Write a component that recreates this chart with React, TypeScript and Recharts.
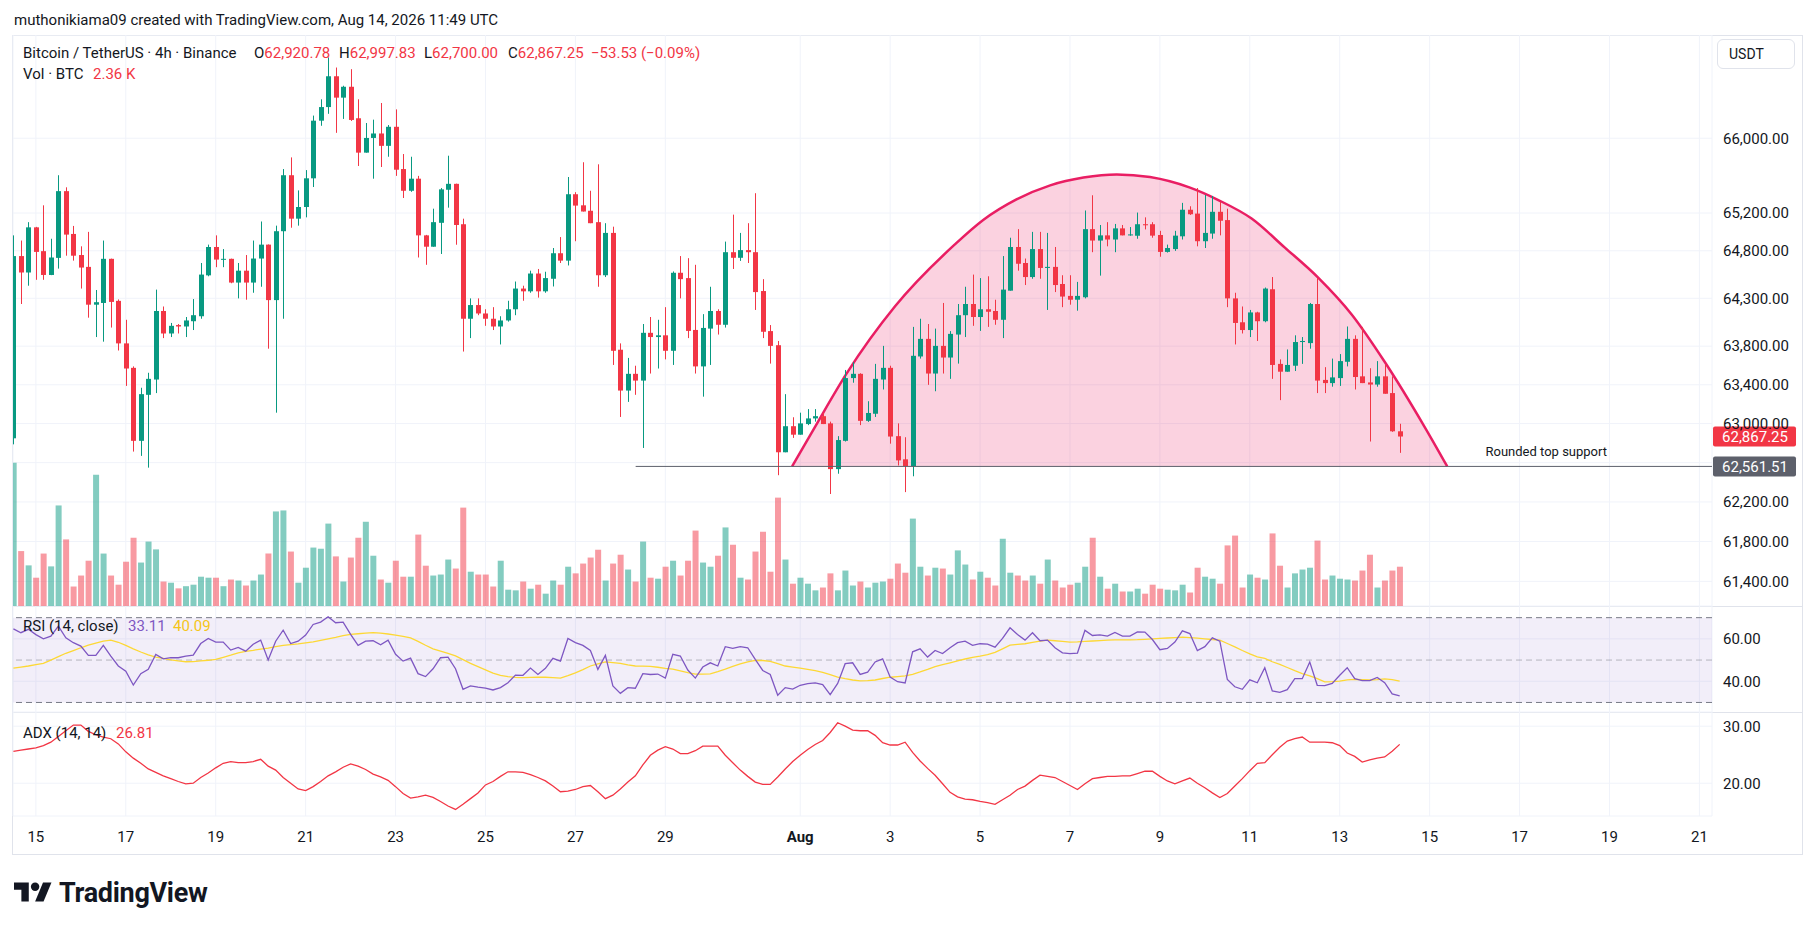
import React from 'react';
import {
  ComposedChart,
  LineChart,
  Line,
  Bar,
  Area,
  Cell,
  XAxis,
  YAxis,
  CartesianGrid,
  ReferenceLine,
  ReferenceArea,
} from 'recharts';

// time is counted in days from Jul 0 (Aug 1 = 32); 4h candles from Jul 14 12:00 UTC
const START_DAY = 14.5;
const STEP = 1 / 6;

const OPEN = [
  62849, 64744, 64571, 65048, 64796, 64545, 64725, 65433, 64978, 64755,
  64630, 64233, 64251, 64715, 64273, 63829, 63575, 62823, 63296, 63454,
  64167, 63932, 64020, 64005, 64060, 64112, 64541, 64840, 64707, 64715,
  64465, 64590, 64465, 64718, 64865, 64281, 65007, 65603, 65140, 65264,
  65570, 66189, 66336, 66670, 66438, 66556, 66215, 65845, 66003, 66051,
  65918, 66123, 65669, 65437, 65566, 64963, 64843, 65096, 65448, 65511,
  65081, 64086, 64229, 64141, 64086, 64005, 64068, 64185, 64402, 64373,
  64560, 64373, 64505, 64774, 64696, 65400, 65282, 65224, 65103, 64542,
  64989, 63763, 63340, 63513, 63443, 63939, 63895, 63913, 63752, 64568,
  64512, 63969, 63590, 63983, 64167, 64023, 64785, 64726, 64807, 64785,
  64376, 63957, 63810, 62706, 62973, 62886, 62995, 63053, 63076, 63002,
  62534, 62823, 63469, 63513, 63028, 63101, 63454, 63575, 62871, 62634,
  62564, 63693, 63876, 63516, 63803, 63682, 63921, 64123, 64240, 64104,
  64185, 64167, 64075, 64380, 64840, 64671, 64523, 64818, 64619, 64630,
  64450, 64325, 64285, 64311, 65029, 64908, 64963, 64919, 65037, 64963,
  64959, 65081, 65081, 64967, 64788, 64818, 64953, 65235, 65194, 64901,
  64982, 65213, 65125, 64299, 64049, 63968, 64152, 64060, 64395, 63616,
  63535, 63597, 63843, 63832, 64240, 63450, 63417, 63469, 63638, 63876,
  63487, 63424, 63402, 63487, 63314, 62920.78,
];

const HIGH = [
  64963, 64908, 65103, 65053, 65282, 64927, 65603, 65474, 65063, 64847,
  65000, 64387, 64908, 64717, 64288, 64075, 63590, 63369, 63524, 64391,
  64214, 64042, 64031, 64104, 64292, 64671, 64865, 64963, 64818, 64717,
  64671, 64755, 64908, 65110, 64867, 65066, 65669, 65794, 65441, 65658,
  66244, 66420, 66876, 66765, 66567, 66747, 66420, 66164, 66200, 66380,
  66142, 66311, 65830, 65801, 65596, 64968, 65246, 65466, 65812, 65513,
  65140, 64299, 64299, 64185, 64207, 64112, 64274, 64476, 64432, 64590,
  64608, 64579, 64829, 64945, 65584, 65422, 65742, 65437, 65720, 65092,
  65055, 63829, 63678, 63597, 64031, 64104, 64075, 64207, 64582, 64744,
  64722, 64652, 64134, 64421, 64185, 64897, 65183, 64989, 65092, 65411,
  64501, 64020, 63854, 63303, 63065, 63112, 63149, 63149, 63112, 63020,
  62871, 63553, 63634, 63519, 63230, 63616, 63803, 63597, 63002, 62860,
  64001, 64086, 64031, 63983, 64251, 63957, 64240, 64421, 64549, 64512,
  64531, 64285, 64744, 64938, 65029, 64718, 65000, 65000, 64989, 64840,
  64542, 64542, 64472, 65227, 65389, 65073, 65103, 65084, 65073, 65051,
  65205, 65154, 65103, 65011, 64865, 65011, 65308, 65272, 65466, 65393,
  65382, 65319, 65246, 64358, 64214, 64178, 64159, 64413, 64523, 63663,
  63766, 63913, 63895, 64251, 64512, 63582, 63671, 63718, 64005, 63913,
  64001, 63571, 63645, 63608, 63487, 62997.83,
];

const LOW = [
  62787, 64240, 64432, 64494, 64494, 64543, 64612, 64748, 64696, 64402,
  64097, 63895, 63847, 63994, 63755, 63388, 62713, 62669, 62549, 63314,
  63884, 63895, 63932, 63895, 63968, 64086, 64531, 64627, 64627, 64458,
  64299, 64285, 64358, 64421, 63774, 63112, 64086, 65044, 65066, 65154,
  65477, 66134, 66263, 66058, 66208, 66186, 65702, 65845, 65566, 65691,
  65801, 65596, 65360, 65426, 64729, 64652, 64843, 64766, 65257, 64864,
  63744, 63884, 64123, 64012, 63968, 63818, 64056, 64123, 64274, 64358,
  64307, 64358, 64424, 64671, 64645, 64901, 65216, 65092, 64421, 64523,
  63605, 63068, 63223, 63296, 62750, 63516, 63568, 63663, 63605, 64299,
  63884, 63516, 63277, 63605, 63921, 63994, 64608, 64693, 64671, 64178,
  63884, 63619, 62472, 62706, 62853, 62886, 62984, 63020, 62995, 62281,
  62487, 62816, 63421, 62984, 63017, 63068, 63351, 62794, 62571, 62300,
  62461, 63671, 63399, 63333, 63516, 63461, 63619, 63895, 64012, 63959,
  64001, 64023, 63884, 64380, 64590, 64439, 64505, 64505, 64178, 64365,
  64207, 64233, 64170, 64299, 64785, 64538, 64847, 64785, 64963, 64959,
  64927, 65026, 64938, 64737, 64781, 64799, 64919, 65180, 64847, 64829,
  64927, 64963, 64207, 63818, 63932, 63895, 63854, 64049, 63461, 63241,
  63535, 63542, 63616, 63774, 63314, 63314, 63380, 63388, 63590, 63351,
  63417, 62816, 63380, 63307, 62915, 62700,
];

const CLOSE = [
  64744, 64571, 65048, 64788, 64545, 64729, 65433, 64971, 64748, 64623,
  64233, 64259, 64715, 64262, 63829, 63568, 62823, 63303, 63461, 64167,
  63932, 64012, 64005, 64068, 64123, 64549, 64840, 64707, 64715, 64465,
  64590, 64465, 64718, 64865, 64281, 65007, 65603, 65140, 65264, 65570,
  66189, 66336, 66670, 66438, 66556, 66197, 65845, 66003, 66051, 65918,
  66123, 65662, 65437, 65566, 64963, 64843, 65103, 65452, 65511, 65073,
  64086, 64229, 64141, 64086, 64005, 64068, 64185, 64402, 64373, 64560,
  64373, 64512, 64774, 64696, 65400, 65279, 65216, 65092, 64542, 64989,
  63752, 63340, 63513, 63443, 63939, 63895, 63913, 63752, 64568, 64501,
  63959, 63590, 63990, 64167, 64023, 64785, 64726, 64807, 64785, 64365,
  63950, 63803, 62706, 62973, 62886, 63002, 63053, 63076, 62995, 62534,
  62831, 63469, 63513, 63028, 63109, 63461, 63575, 62867, 62623, 62564,
  63700, 63876, 63516, 63803, 63682, 63928, 64123, 64240, 64104, 64185,
  64159, 64075, 64391, 64840, 64663, 64523, 64818, 64619, 64630, 64439,
  64318, 64285, 64325, 65029, 64908, 64963, 64919, 65037, 64963, 64973,
  65081, 65070, 64960, 64788, 64829, 64960, 65235, 65187, 64901, 64989,
  65213, 65118, 64299, 64042, 63968, 64152, 64060, 64402, 63605, 63535,
  63605, 63843, 63854, 64240, 63443, 63417, 63476, 63645, 63876, 63480,
  63417, 63402, 63487, 63307, 62920.78, 62867.25,
];

// volume in BTC
const VOLUME = [
  8610, 3300, 2440, 1700, 3150, 2380, 6040, 4000, 1170, 1830,
  2720, 7890, 3150, 1830, 1280, 2660, 4100, 2610, 3870, 3400,
  1470, 1400, 1060, 1190, 1280, 1760, 1700, 1700, 1190, 1590,
  1530, 1230, 1530, 1890, 3150, 5680, 5740, 3270, 1400, 2300,
  3510, 3440, 4950, 2980, 1470, 2910, 4100, 5060, 3020, 1590,
  1400, 2720, 1760, 1760, 4290, 2420, 1830, 1890, 2790, 2250,
  5910, 2060, 1890, 1890, 1170, 2720, 980, 940, 1470, 1040,
  1280, 740, 1530, 1280, 2360, 1960, 2550, 2910, 3380, 1530,
  2550, 3080, 2190, 1470, 3870, 1700, 1640, 2360, 2720, 1830,
  2720, 4530, 2610, 2360, 3020, 4720, 3680, 1700, 1590, 3270,
  4460, 2060, 6510, 2790, 1340, 1700, 1340, 940, 1110, 1960,
  940, 2130, 1230, 1470, 1110, 1400, 1470, 1640, 2550, 2000,
  5250, 2360, 1830, 2300, 2250, 1890, 3340, 2490, 1590, 2060,
  1700, 1230, 4040, 2000, 1830, 1530, 1830, 1340, 2790, 1530,
  1110, 1280, 1400, 2360, 4100, 1760, 1040, 1340, 870, 870,
  1040, 740, 1280, 1040, 980, 940, 1280, 810, 2300, 1760,
  1640, 1340, 3640, 4230, 1110, 1890, 1700, 1590, 4360, 2420,
  1110, 1960, 2190, 2300, 3930, 1590, 1830, 1640, 1590, 1530,
  2130, 3080, 1110, 1530, 2130, 2360,
];

const RSI = [
  64.7, 62.9, 64.5, 62.0, 60.0, 61.3, 66.0, 60.5, 58.2, 56.6,
  52.2, 52.2, 56.9, 51.9, 47.2, 44.7, 38.2, 43.6, 45.6, 52.7,
  50.6, 51.1, 51.1, 51.9, 52.3, 57.8, 60.2, 58.5, 58.5, 54.7,
  56.0, 54.2, 57.5, 59.4, 50.0, 58.9, 64.1, 57.8, 58.9, 61.8,
  66.8, 67.9, 70.4, 67.6, 67.9, 62.1, 56.9, 58.9, 59.1, 57.2,
  59.4, 52.7, 49.5, 50.9, 43.6, 42.2, 45.9, 51.1, 51.4, 45.9,
  36.2, 37.8, 37.2, 36.8, 35.9, 37.0, 39.3, 42.9, 42.8, 46.2,
  43.2, 46.1, 50.8, 49.5, 60.2, 58.2, 56.9, 54.5, 45.6, 52.2,
  37.8, 34.3, 37.0, 36.7, 43.6, 43.2, 43.4, 41.5, 52.7, 51.9,
  45.3, 41.5, 46.7, 48.7, 47.2, 56.3, 55.5, 56.3, 55.8, 50.3,
  45.1, 43.2, 33.4, 37.0, 36.3, 38.1, 38.9, 39.2, 38.4, 33.7,
  39.0, 48.3, 48.7, 43.2, 44.3, 49.1, 50.6, 42.0, 39.8, 39.2,
  53.9, 55.3, 51.4, 54.5, 53.1, 55.8, 58.2, 58.9, 56.9, 57.7,
  57.5, 56.1, 60.2, 65.2, 62.1, 59.4, 62.9, 59.1, 59.4, 55.8,
  53.4, 53.0, 53.3, 64.0, 61.6, 61.9, 61.3, 63.0, 61.3, 61.3,
  63.3, 63.2, 59.7, 54.9, 55.5, 58.5, 63.8, 62.5, 54.5, 56.3,
  60.5, 58.9, 40.9, 37.4, 36.2, 40.7, 39.3, 46.4, 35.4, 34.8,
  36.0, 41.2, 41.2, 49.1, 38.1, 37.9, 39.0, 42.8, 46.4, 41.2,
  40.3, 40.3, 41.8, 39.3, 34.0, 33.11,
];

const RSI_MA = [
  46.2, 46.7, 47.2, 47.8, 48.4, 50.0, 51.6, 53.2, 54.5, 55.8,
  57.0, 58.0, 58.9, 59.4, 58.4, 56.9, 55.3, 53.8, 52.4, 51.4,
  50.8, 50.1, 49.6, 49.2, 49.3, 49.6, 49.9, 50.3, 51.3, 52.3,
  53.4, 54.1, 54.6, 55.2, 55.6, 56.3, 56.9, 57.3, 57.6, 58.1,
  58.6, 59.3, 60.0, 60.7, 61.5, 62.1, 62.4, 62.7, 62.9, 62.7,
  62.3, 61.8, 61.2, 60.5, 58.8, 57.0, 55.3, 54.2, 53.1, 52.0,
  50.2, 48.4, 46.9, 45.4, 43.8, 42.8, 42.2, 41.8, 41.7, 41.8,
  41.9, 41.9, 41.7, 41.5, 42.7, 44.0, 45.5, 47.2, 48.2, 49.1,
  48.8, 48.4, 47.7, 47.2, 47.1, 47.0, 46.6, 46.1, 45.7, 44.9,
  44.1, 43.4, 43.4, 43.5, 44.5, 45.7, 47.0, 48.2, 49.1, 49.8,
  49.8, 49.4, 48.3, 47.2, 46.7, 46.2, 45.6, 45.0, 44.2, 43.1,
  41.9, 41.2, 40.6, 40.2, 40.3, 40.6, 41.3, 41.9, 42.2, 42.5,
  43.3, 44.4, 45.6, 46.9, 47.8, 48.7, 49.6, 50.5, 51.3, 51.9,
  52.6, 53.6, 55.3, 57.0, 57.4, 57.7, 58.3, 58.9, 59.4, 59.1,
  58.8, 58.5, 58.6, 58.8, 59.0, 59.2, 59.4, 59.5, 59.5, 59.5,
  59.6, 59.8, 60.0, 60.2, 60.4, 60.6, 60.8, 60.6, 60.3, 60.0,
  59.7, 59.4, 57.8, 56.2, 54.5, 52.9, 51.5, 50.8, 49.2, 48.0,
  46.5, 45.0, 43.6, 42.5, 41.2, 39.7, 39.8, 40.1, 40.7, 40.9,
  40.8, 40.6, 40.8, 41.1, 40.8, 40.09,
];

const ADX = [
  25.6, 25.8, 26.0, 26.2, 26.6, 27.2, 28.2, 29.2, 30.2, 30.2,
  29.1, 28.5, 28.1, 27.8, 26.9, 25.5, 24.4, 23.5, 22.5, 21.9,
  21.3, 20.8, 20.3, 19.9, 20.0, 21.0, 21.8, 22.7, 23.5, 23.8,
  23.6, 23.6, 23.8, 24.2, 23.0, 22.3, 21.0, 20.0, 19.0, 18.7,
  19.4, 20.3, 21.3, 22.0, 22.8, 23.4, 23.0, 22.4, 21.6, 21.1,
  20.5, 19.4, 18.2, 17.4, 17.6, 17.9, 17.5, 16.8, 16.0, 15.4,
  16.3, 17.3, 18.3, 19.7, 20.3, 21.2, 22.0, 22.0, 21.9, 21.5,
  21.0, 20.4, 19.5, 18.5, 18.6, 18.9, 19.4, 19.6, 18.5, 17.3,
  17.9, 19.0, 20.2, 21.3, 23.2, 24.9, 25.8, 26.4, 26.0, 25.2,
  25.2, 25.7, 26.5, 26.5, 26.5, 24.9, 23.6, 22.3, 21.2, 20.2,
  19.8, 19.8, 21.1, 22.5, 23.8, 24.9, 25.9, 26.8, 27.5, 28.9,
  30.6, 30.0, 29.3, 29.2, 29.2, 28.4, 27.1, 26.7, 26.7, 27.2,
  25.4, 23.9, 22.6, 21.4, 19.9, 18.4, 17.6, 17.2, 17.1, 16.8,
  16.6, 16.3, 17.1, 17.9, 18.9, 19.5, 20.5, 21.4, 21.2, 21.0,
  20.3, 19.6, 18.9, 19.9, 20.8, 21.0, 21.2, 21.2, 21.3, 21.3,
  21.7, 22.1, 22.1, 21.2, 20.4, 19.9, 20.4, 20.9, 20.0, 19.2,
  18.3, 17.5, 18.2, 19.5, 20.8, 22.2, 23.5, 23.6, 25.0, 26.3,
  27.4, 27.8, 28.1, 27.2, 27.2, 27.2, 27.1, 26.6, 25.3, 24.7,
  23.7, 24.1, 24.4, 24.6, 25.6, 26.81,
];

// hand drawn "rounded top" arc (time in days, price)
const ARC_T = [31.82, 32.33, 33.03, 34.11, 35.44, 36.07, 36.81, 37.56, 38.3, 39.04, 39.78, 40.67, 41.3, 42.04, 42.78, 43.52, 44.27, 45.01, 45.9, 46.39];
const ARC_P = [62561.51, 62967, 63515, 64216, 64867, 65126, 65345, 65495, 65578, 65612, 65583, 65470, 65338, 65141, 64833, 64517, 64128, 63630, 62956, 62561.51];

const SUPPORT = 62561.51;
const SUPPORT_FROM = 28.34;
const LAST_CLOSE = 62867.25;

const X_TICKS = [15, 17, 19, 21, 23, 25, 27, 29, 32, 34, 36, 38, 40, 42, 44, 46, 48, 50, 52];
const X_LABELS = ['15', '17', '19', '21', '23', '25', '27', '29', 'Aug', '3', '5', '7', '9', '11', '13', '15', '17', '19', '21'];
const PRICE_TICKS = [66000, 65200, 64800, 64300, 63800, 63400, 63000, 62600, 62200, 61800, 61400];
const RSI_TICKS = [60, 40];
const ADX_TICKS = [30, 20];

const X_DOMAIN: [number, number] = [14.491, 52.28];
const PRICE_DOMAIN: [number, number] = [61154, 67120];
const VOL_DOMAIN: [number, number] = [0, 34300];
const RSI_DOMAIN: [number, number] = [25.5, 75.5];
const ADX_DOMAIN: [number, number] = [14.25, 32.49];

const UP = '#089981';
const DOWN = '#f23645';
const TEXT = '#131722';
const GRID = '#f0f3fa';
const BORDER = '#e0e3eb';
const FONT = 'Roboto, "Liberation Sans", Arial, sans-serif';

const rows = CLOSE.map((close, i) => ({
  t: START_DAY + i * STEP,
  open: OPEN[i],
  high: HIGH[i],
  low: LOW[i],
  close,
  vol: VOLUME[i],
  rsi: RSI[i],
  rsiMa: RSI_MA[i],
  adx: ADX[i],
}));

const arcRows = ARC_T.map((t, i) => ({ t, p: ARC_P[i] }));

const fmtPrice = (v: number) =>
  v.toLocaleString('en-US', { minimumFractionDigits: 2, maximumFractionDigits: 2 });

// candle drawn inside the [low, high] bar; log price scale
function Candle(props: any) {
  const { x, y, width, height, payload } = props;
  if (!payload) return null;
  const { open, close, high, low } = payload;
  const color = close >= open ? UP : DOWN;
  const k = Math.log(high / low);
  const yOf = (v: number) => (k === 0 ? y : y + (Math.log(high / v) / k) * height);
  const cx = Math.round(x + width / 2) + 0.5;
  const top = yOf(Math.max(open, close));
  const bot = yOf(Math.min(open, close));
  return (
    <g>
      <line x1={cx} x2={cx} y1={y} y2={y + height} stroke={color} strokeWidth={1} />
      <rect x={cx - 2.5} y={top} width={5} height={Math.max(1, bot - top)} fill={color} />
    </g>
  );
}

function PriceTag({ viewBox, text, fill }: any) {
  const bx = viewBox.x + viewBox.width + 1;
  return (
    <g>
      <rect x={bx} y={viewBox.y - 10} width={83} height={20} rx={2} fill={fill} />
      <text x={bx + 42} y={viewBox.y} dy="0.36em" textAnchor="middle" fill="#fff" fontSize={15} fontFamily={FONT}>
        {text}
      </text>
    </g>
  );
}

function SupportLabel({ viewBox }: any) {
  const right = viewBox.x + viewBox.width;
  return (
    <g>
      <text x={right - 105} y={viewBox.y - 10} textAnchor="end" fill={TEXT} fontSize={13} fontFamily={FONT}>
        Rounded top support
      </text>
      <PriceTag viewBox={viewBox} text={fmtPrice(SUPPORT)} fill="#5d606b" />
    </g>
  );
}

function TimeTick({ x, y, payload }: any) {
  const label = X_LABELS[X_TICKS.indexOf(payload.value)];
  return (
    <text x={x} y={y} dy="0.71em" textAnchor="middle" fill={TEXT} fontSize={15} fontFamily={FONT} fontWeight={label === 'Aug' ? 700 : 400}>
      {label}
    </text>
  );
}

const axisTick = { fill: TEXT, fontSize: 15, fontFamily: FONT };
const margin = { top: 0, right: 0, bottom: 0, left: 1 };

function Abs({ x, y, children, style }: any) {
  return (
    <div style={{ position: 'absolute', left: x, top: y, whiteSpace: 'nowrap', lineHeight: '18px', fontSize: 15, fontFamily: FONT, color: TEXT, ...style }}>
      {children}
    </div>
  );
}

export default function App() {
  return (
    <div style={{ position: 'absolute', left: 0, top: 0, width: 1815, height: 930, background: '#fff', fontFamily: FONT, overflow: 'hidden' }}>
      <Abs x={14} y={11}>muthonikiama09 created with TradingView.com, Aug 14, 2026 11:49 UTC</Abs>

      {/* frame */}
      <div style={{ position: 'absolute', left: 12, top: 35, width: 1789, height: 818, border: `1px solid ${BORDER}` }} />
      <div style={{ position: 'absolute', left: 12, top: 606, width: 1790, height: 1, background: BORDER }} />
      <div style={{ position: 'absolute', left: 12, top: 712, width: 1790, height: 1, background: BORDER }} />

      {/* main pane: candles, volume, arc */}
      <div style={{ position: 'absolute', left: 12, top: 35 }}>
        <ComposedChart width={1790} height={571} data={rows} margin={margin}>
          <CartesianGrid xAxisId="c" yAxisId="p" stroke={GRID} />
          <XAxis xAxisId="c" type="number" dataKey="t" domain={X_DOMAIN} allowDataOverflow ticks={X_TICKS} hide />
          <XAxis xAxisId="v" type="number" dataKey="t" domain={X_DOMAIN} allowDataOverflow hide />
          <YAxis
            yAxisId="p"
            orientation="right"
            scale="log"
            type="number"
            domain={PRICE_DOMAIN}
            allowDataOverflow
            ticks={PRICE_TICKS}
            width={90}
            axisLine={false}
            tickLine={false}
            tickSize={6}
            tickMargin={5}
            tick={axisTick}
            tickFormatter={(v: number) => (v === 62600 ? '' : fmtPrice(v))}
          />
          <YAxis yAxisId="v" hide domain={VOL_DOMAIN} allowDataOverflow />
          <Bar xAxisId="v" yAxisId="v" dataKey="vol" barSize={6} isAnimationActive={false}>
            {rows.map((r, i) => (
              <Cell key={i} fill={r.close >= r.open ? UP : DOWN} fillOpacity={0.5} />
            ))}
          </Bar>
          <Area
            xAxisId="c"
            yAxisId="p"
            data={arcRows}
            dataKey="p"
            type="monotone"
            baseValue={SUPPORT}
            stroke="#e91e63"
            strokeWidth={2.5}
            fill="#e91e63"
            fillOpacity={0.2}
            dot={false}
            activeDot={false}
            isAnimationActive={false}
          />
          <Bar
            xAxisId="c"
            yAxisId="p"
            dataKey={(d: any) => [d.low, d.high]}
            barSize={5}
            isAnimationActive={false}
            shape={(p: any) => <Candle {...p} />}
          />
          <ReferenceLine
            xAxisId="c"
            yAxisId="p"
            segment={[{ x: SUPPORT_FROM, y: SUPPORT }, { x: X_DOMAIN[1], y: SUPPORT }]}
            stroke="#5d606b"
            strokeWidth={1}
            label={(p: any) => <SupportLabel viewBox={p.viewBox} />}
          />
          <ReferenceLine
            xAxisId="c"
            yAxisId="p"
            y={LAST_CLOSE}
            stroke="none"
            label={(p: any) => <PriceTag viewBox={p.viewBox} text={fmtPrice(LAST_CLOSE)} fill={DOWN} />}
          />
        </ComposedChart>
      </div>

      {/* RSI pane */}
      <div style={{ position: 'absolute', left: 12, top: 606 }}>
        <LineChart width={1790} height={106} data={rows} margin={margin}>
          <CartesianGrid stroke={GRID} />
          <XAxis type="number" dataKey="t" domain={X_DOMAIN} allowDataOverflow ticks={X_TICKS} hide />
          <YAxis
            orientation="right"
            domain={RSI_DOMAIN}
            allowDataOverflow
            ticks={RSI_TICKS}
            width={90}
            axisLine={false}
            tickLine={false}
            tickSize={6}
            tickMargin={5}
            tick={axisTick}
            tickFormatter={(v: number) => v.toFixed(2)}
          />
          <ReferenceArea y1={30} y2={70} fill="#7e57c2" fillOpacity={0.1} stroke="none" />
          <ReferenceLine y={70} stroke="#787b86" strokeDasharray="6 4" />
          <ReferenceLine y={50} stroke="#787b86" strokeOpacity={0.5} strokeDasharray="6 4" />
          <ReferenceLine y={30} stroke="#787b86" strokeDasharray="6 4" />
          <Line dataKey="rsiMa" stroke="#fdd835" strokeWidth={1.3} dot={false} isAnimationActive={false} />
          <Line dataKey="rsi" stroke="#7e57c2" strokeWidth={1.3} dot={false} isAnimationActive={false} />
        </LineChart>
      </div>

      {/* ADX pane + time axis */}
      <div style={{ position: 'absolute', left: 12, top: 712 }}>
        <LineChart width={1790} height={142} data={rows} margin={margin}>
          <CartesianGrid stroke={GRID} />
          <XAxis
            type="number"
            dataKey="t"
            domain={X_DOMAIN}
            allowDataOverflow
            ticks={X_TICKS}
            height={38}
            axisLine={false}
            tickLine={false}
            tickSize={6}
            tickMargin={9}
            tick={<TimeTick />}
          />
          <YAxis
            orientation="right"
            domain={ADX_DOMAIN}
            allowDataOverflow
            ticks={ADX_TICKS}
            width={90}
            axisLine={false}
            tickLine={false}
            tickSize={6}
            tickMargin={5}
            tick={axisTick}
            tickFormatter={(v: number) => v.toFixed(2)}
          />
          <Line dataKey="adx" stroke={DOWN} strokeWidth={1.3} dot={false} isAnimationActive={false} />
        </LineChart>
      </div>

      {/* legends */}
      <Abs x={23} y={44}>Bitcoin / TetherUS · 4h · Binance</Abs>
      <Abs x={254} y={44}>O<span style={{ color: DOWN }}>62,920.78</span></Abs>
      <Abs x={339} y={44}>H<span style={{ color: DOWN }}>62,997.83</span></Abs>
      <Abs x={424} y={44}>L<span style={{ color: DOWN }}>62,700.00</span></Abs>
      <Abs x={508} y={44}>C<span style={{ color: DOWN }}>62,867.25</span></Abs>
      <Abs x={591} y={44} style={{ color: DOWN }}>−53.53 (−0.09%)</Abs>
      <Abs x={23} y={65}>Vol · BTC</Abs>
      <Abs x={93} y={65} style={{ color: DOWN }}>2.36 K</Abs>

      <Abs x={23} y={617}>RSI (14, close)</Abs>
      <Abs x={128} y={617} style={{ color: '#7e57c2' }}>33.11</Abs>
      <Abs x={173} y={617} style={{ color: '#f5c518' }}>40.09</Abs>
      <Abs x={23} y={724}>ADX (14, 14)</Abs>
      <Abs x={116} y={724} style={{ color: DOWN }}>26.81</Abs>

      {/* currency button */}
      <div
        style={{
          position: 'absolute',
          left: 1717,
          top: 39,
          width: 78,
          height: 30,
          border: `1px solid ${BORDER}`,
          borderRadius: 6,
          boxSizing: 'border-box',
          fontSize: 14,
          lineHeight: '28px',
          paddingLeft: 11,
          color: TEXT,
        }}
      >
        USDT
      </div>

      {/* TradingView logo */}
      <div style={{ position: 'absolute', left: 14, top: 877, display: 'flex', alignItems: 'center' }}>
        <svg width={38} height={30} viewBox="0 0 36 28">
          <path d="M14 22H7V11H0V4h14v18z" fill={TEXT} />
          <circle cx={20} cy={8} r={4} fill={TEXT} />
          <path d="M28 22h-8l7.5-18h8L28 22z" fill={TEXT} />
        </svg>
        <span style={{ marginLeft: 7, fontSize: 27, fontWeight: 700, color: TEXT, letterSpacing: -0.3 }}>TradingView</span>
      </div>
    </div>
  );
}
